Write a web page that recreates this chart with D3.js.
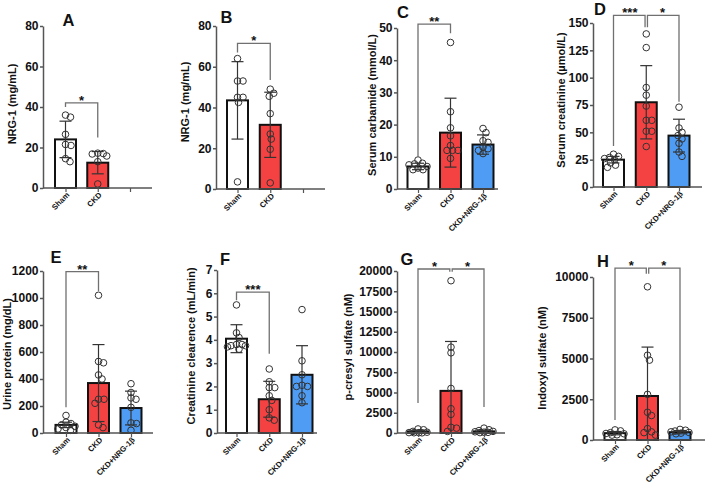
<!DOCTYPE html>
<html><head><meta charset="utf-8">
<script src="https://cdn.jsdelivr.net/npm/d3@7"></script>
<style>
body{margin:0;background:#fff}
svg{display:block}
text{font-family:"Liberation Sans",Arial,sans-serif;font-weight:bold;fill:#111}
</style>
</head><body>
<svg id="c" width="705" height="486"></svg>
<script>
// ---------- DATA ----------
const groups3 = ["Sham", "CKD", "CKD+NRG-1β"];
const groups2 = ["Sham", "CKD", ""];

// A: NRG-1 (mg/mL)
const A_mean = [24, 12.5];
const A_sd = [9, 5.5];
const A_pts = [[36, 35, 26.5, 21.5, 21, 14.5, 13], [17.2, 17, 16.8, 15.8, 13, 2]];
const A_ticks = [0, 20, 40, 60, 80];
const A_sig = [[0, 1, 42, 40, 25, "*"]];

// B: NRG-1 (mg/mL)
const B_mean = [43.5, 31.5];
const B_sd = [19, 16];
const B_pts = [[64, 53, 53, 45, 45, 42.5, 3.5], [49, 47, 45.5, 37, 27, 24.5, 19.5, 3]];
const B_ticks = [0, 20, 40, 60, 80];
const B_sig = [[0, 1, 71.5, 67, 53.5, "*"]];

// C: Serum carbamide (mmol/L)
const C_mean = [7, 17.5, 13.8];
const C_sd = [1, 10.7, 3];
const C_pts = [[9, 8, 7.8, 7.5, 7, 6.5, 6, 6], [45.5, 24, 19, 16.5, 13.5, 12, 12, 12, 9.5], [18.8, 17.5, 15, 14.5, 13, 12.5, 12, 11]];
const C_ticks = [0, 10, 20, 30, 40, 50];
const C_sig = [[0, 1, 51.2, 10, 48.4, "**"]];

// D: Serum creatinine (µmol/L)
const D_mean = [25, 77.5, 47];
const D_sd = [3, 33.5, 15];
const D_pts = [[30, 28, 27, 26, 25, 22, 20, 18], [140, 127.5, 91, 84, 74, 61, 61, 51, 51, 37], [73, 54, 50, 47, 44, 40, 32, 28]];
const D_ticks = [0, 25, 50, 75, 100, 125, 150];
const D_sig = [[0, 1, 157, 37.5, 146, "***"], [1, 2, 157, 146, 78, "*"]];

// E: Urine protein (mg/dL)
const E_mean = [60, 370, 185];
const E_sd = [20, 285, 125];
const E_pts = [[130, 80, 70, 60, 50, 40, 30, 20], [1020, 530, 520, 430, 400, 250, 250, 220, 60, 40], [365, 300, 260, 250, 190, 75, 70, 20]];
const E_ticks = [0, 200, 400, 600, 800, 1000, 1200];
const E_sig = [[0, 1, 1195, 190, 1050, "**"]];

// F: Creatinine clearence (mL/min)
const F_mean = [4.05, 1.45, 2.5];
const F_sd = [0.6, 0.77, 1.25];
const F_pts = [[5.5, 4.3, 4.1, 3.8, 3.8, 3.75, 3.75, 3.7, 3.6], [2.75, 2.2, 1.95, 1.95, 1.6, 1.4, 1.0, 0.65, 0.55], [5.3, 3.1, 2.5, 2.05, 2.0, 2.0, 1.6, 1.3]];
const F_ticks = [0, 1, 2, 3, 4, 5, 6, 7];
const F_sig = [[0, 1, 6.05, 5.7, 3.4, "***"]];

// G: p-cresyl sulfate (nM)
const G_mean = [200, 5200, 200];
const G_sd = [150, 6100, 150];
const G_pts = [[500, 400, 200, 100, 50, 50, 30, 20], [18800, 10600, 9900, 5500, 3000, 2300, 700, 600, 200], [600, 400, 300, 200, 150, 100, 80, 50]];
const G_ticks = [0, 2500, 5000, 7500, 10000, 12500, 15000, 17500, 20000];
const G_sig = [[0, 1, 20250, 3700, 19900, "*"], [1, 2, 20250, 19900, 3200, "*"]];

// H: Indoxyl sulfate (nM)
const H_mean = [420, 2700, 480];
const H_sd = [100, 3000, 100];
const H_pts = [[620, 560, 450, 400, 380, 320, 300], [9400, 5200, 4900, 2800, 1700, 1500, 700, 500, 450, 300], [650, 600, 550, 500, 460, 420, 380]];
const H_ticks = [0, 2500, 5000, 7500, 10000];
const H_sig = [[0, 1, 10550, 1230, 10200, "*"], [1, 2, 10550, 10200, 1230, "*"]];

// ---------- PANELS (data + layout) ----------
const panels = [
  {id:"A", title:"NRG-1 (mg/mL)", cats:groups2, mean:A_mean, sd:A_sd, pts:A_pts, ticks:A_ticks, sig:A_sig,
   L:{x0:43, x1:152, c0:65.5, c2:130, yTop:26, yBot:188, tx:12, ty:104, lx:68.5, ly:26}},
  {id:"B", title:"NRG-1 (mg/mL)", cats:groups2, mean:B_mean, sd:B_sd, pts:B_pts, ticks:B_ticks, sig:B_sig,
   L:{x0:216, x1:325, c0:237.5, c2:303, yTop:26, yBot:189, tx:185, ty:102, lx:226.5, ly:23}},
  {id:"C", title:"Serum carbamide (mmol/L)", cats:groups3, mean:C_mean, sd:C_sd, pts:C_pts, ticks:C_ticks, sig:C_sig,
   L:{x0:397, x1:498, c0:418, c2:483, yTop:28, yBot:189, tx:372, ty:105, lx:403, ly:18}},
  {id:"D", title:"Serum creatinine (µmol/L)", cats:groups3, mean:D_mean, sd:D_sd, pts:D_pts, ticks:D_ticks, sig:D_sig,
   L:{x0:593, x1:702, c0:613.5, c2:679, yTop:23, yBot:187, tx:561, ty:100, lx:600, ly:15}},
  {id:"E", title:"Urine protein (mg/dL)", cats:groups3, mean:E_mean, sd:E_sd, pts:E_pts, ticks:E_ticks, sig:E_sig,
   L:{x0:43, x1:153, c0:66, c2:131, yTop:271, yBot:433, tx:7, ty:354, lx:56, ly:263}},
  {id:"F", title:"Creatinine clearence (mL/min)", cats:groups3, mean:F_mean, sd:F_sd, pts:F_pts, ticks:F_ticks, sig:F_sig,
   L:{x0:217, x1:317, c0:236.5, c2:302, yTop:270, yBot:433, tx:191, ty:346, lx:225, ly:265}},
  {id:"G", title:"p-cresyl sulfate (nM)", cats:groups3, mean:G_mean, sd:G_sd, pts:G_pts, ticks:G_ticks, sig:G_sig,
   L:{x0:397, x1:505, c0:418, c2:484, yTop:271, yBot:433, tx:348, ty:347, lx:407, ly:265}},
  {id:"H", title:"Indoxyl sulfate (nM)", cats:groups3, mean:H_mean, sd:H_sd, pts:H_pts, ticks:H_ticks, sig:H_sig,
   L:{x0:593, x1:705, c0:615, c2:680, yTop:277, yBot:440, tx:542, ty:358, lx:603, ly:267}}
];

const fills = ["#ffffff", "#f44242", "#4e9cf3"];
const axisColor = "#555";
const sigColor = "#707070";
const barW = 21, capW = 6, R = 3.3, maxSpread = 9;

const svg = d3.select("#c");

function swarm(vals, y, cx) {
  const placed = [];
  const sorted = vals.map(v => ({v, py: y(v)})).sort((a, b) => b.v - a.v);
  const minD = 2 * R * 0.78;
  sorted.forEach(p => {
    let best = null, bestOv = Infinity;
    for (let k = 0; k < 200; k++) {
      const cand = k === 0 ? 0 : (k % 2 ? 1 : -1) * Math.ceil(k / 2) * 0.5;
      if (Math.abs(cand) > maxSpread) break;
      const ov = placed.reduce((s, q) => s + Math.max(0, minD - Math.hypot(q.px - (cx + cand), q.py - p.py)), 0);
      if (ov === 0) { best = cand; break; }
      if (ov < bestOv - 1e-6) { bestOv = ov; best = cand; }
    }
    p.px = cx + best;
    placed.push(p);
  });
  return placed;
}

panels.forEach(p => {
  const L = p.L;
  const g = svg.append("g");
  const x = d3.scalePoint().domain([0, 1, 2]).range([L.c0, L.c2]);
  const y = d3.scaleLinear().domain([0, p.ticks[p.ticks.length - 1]]).range([L.yBot, L.yTop]);

  // bars
  p.mean.forEach((m, i) => {
    g.append("rect").attr("x", x(i) - barW / 2).attr("y", y(m))
      .attr("width", barW).attr("height", L.yBot - y(m))
      .attr("fill", fills[i]).attr("stroke", "#111").attr("stroke-width", 2);
  });
  // error bars
  p.mean.forEach((m, i) => {
    const hi = y(m + p.sd[i]), lo = y(Math.max(0, m - p.sd[i]));
    const eg = g.append("g").attr("stroke", "#333").attr("stroke-width", 1.2);
    eg.append("line").attr("x1", x(i)).attr("x2", x(i)).attr("y1", hi).attr("y2", lo);
    eg.append("line").attr("x1", x(i) - capW).attr("x2", x(i) + capW).attr("y1", hi).attr("y2", hi);
    eg.append("line").attr("x1", x(i) - capW).attr("x2", x(i) + capW).attr("y1", lo).attr("y2", lo);
  });
  // points
  p.pts.forEach((vals, i) => {
    swarm(vals, y, x(i)).forEach(q => {
      g.append("circle").attr("cx", q.px).attr("cy", q.py).attr("r", R)
        .attr("fill", "none").attr("stroke", "#333").attr("stroke-width", 1);
    });
  });

  // y axis
  const ya = g.append("g").attr("transform", `translate(${L.x0},0)`)
    .call(d3.axisLeft(y).tickValues(p.ticks).tickFormat(d => String(d)).tickSize(3).tickSizeOuter(0).tickPadding(1.5));
  ya.select(".domain").attr("stroke", axisColor).attr("stroke-width", 1.5);
  ya.selectAll(".tick line").attr("stroke", axisColor).attr("stroke-width", 1.5);
  ya.selectAll(".tick text").attr("font-family", null).style("font-size", "12px").style("fill", "#111");

  // x axis
  g.append("line").attr("x1", L.x0).attr("x2", L.x1).attr("y1", L.yBot).attr("y2", L.yBot)
    .attr("stroke", axisColor).attr("stroke-width", 1.5);
  const xa = g.append("g").attr("transform", `translate(0,${L.yBot})`)
    .call(d3.axisBottom(x).tickSize(4).tickFormat(i => p.cats[i]));
  xa.select(".domain").remove();
  xa.selectAll(".tick line").attr("stroke", axisColor).attr("stroke-width", 1.2);
  xa.selectAll(".tick text").attr("font-family", null).style("font-size", "7.8px")
    .attr("x", 0).attr("y", 0).attr("dy", "0.35em").attr("text-anchor", "end")
    .attr("transform", "translate(2,5.5) rotate(-45)").style("fill", "#111");

  // y title
  g.append("text").attr("transform", `translate(${L.tx},${L.ty}) rotate(-90)`)
    .attr("text-anchor", "middle").attr("dominant-baseline", "central")
    .style("font-size", "11px").text(p.title);

  // panel letter
  g.append("text").attr("x", L.lx).attr("y", L.ly).attr("text-anchor", "middle")
    .style("font-size", "16.5px").text(p.id);

  // significance brackets
  const two = p.sig.length > 1;
  p.sig.forEach((s, k) => {
    const [a, b, by, dl, dr, lab] = s;
    const xa1 = x(a) + (two && k === 1 ? 1.2 : 0);
    const xb1 = x(b) - (two && k === 0 ? 1.2 : 0);
    g.append("path")
      .attr("d", `M${xa1},${y(dl)}V${y(by)}H${xb1}V${y(dr)}`)
      .attr("fill", "none").attr("stroke", sigColor).attr("stroke-width", 1.3);
    g.append("text").attr("x", (x(a) + x(b)) / 2).attr("y", y(by) + 2)
      .attr("text-anchor", "middle").style("font-size", "13px").text(lab);
  });
});
</script>
</body></html>
